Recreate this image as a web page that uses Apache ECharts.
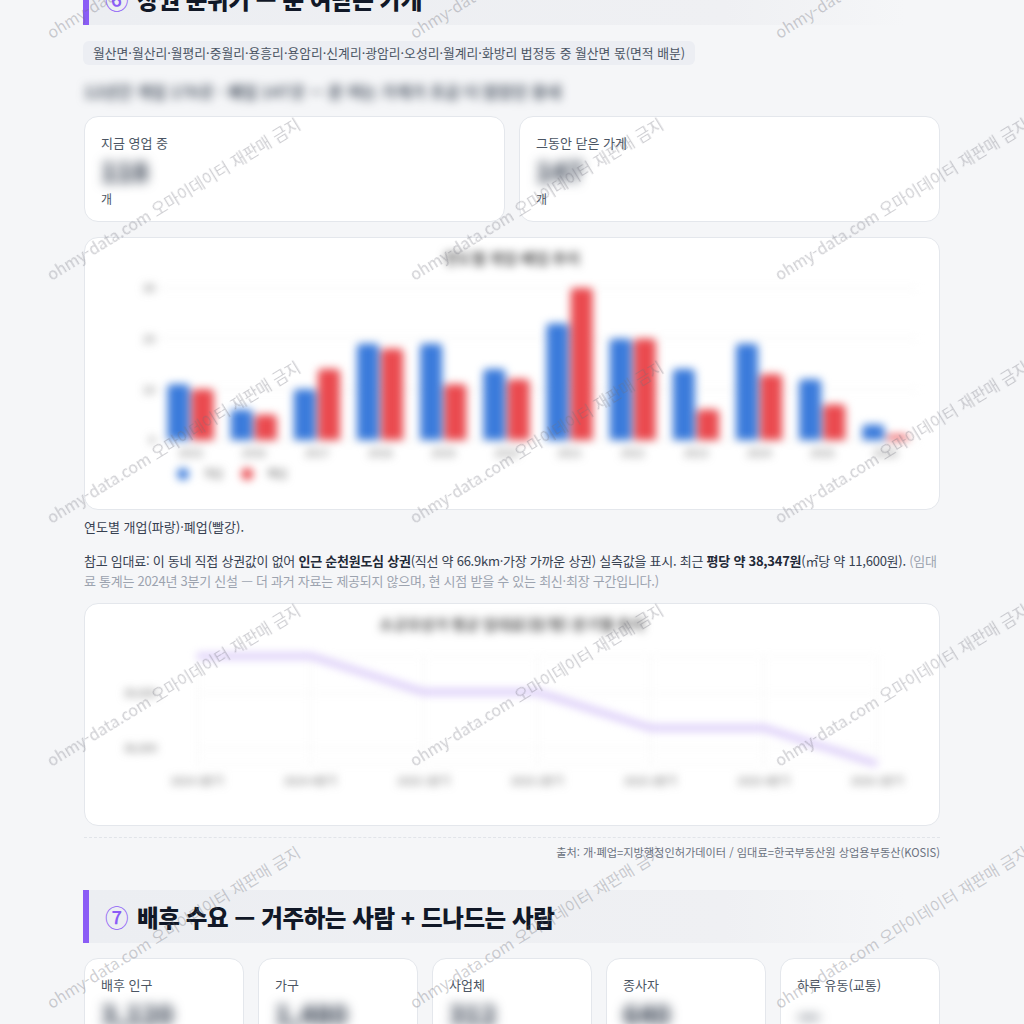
<!DOCTYPE html>
<html lang="ko">
<head>
<meta charset="utf-8">
<script src="https://cdn.jsdelivr.net/npm/echarts@6/dist/echarts.min.js"></script>
<style>
*{box-sizing:border-box;margin:0;padding:0}
html,body{width:1024px;height:1024px;overflow:hidden;background:#f5f6f8;font-family:'Noto Sans CJK KR','Noto Sans',sans-serif;color:#1f2937}
.hdr{position:absolute;left:83px;height:53px;width:822px;border-left:6px solid #8b5cf6;background:linear-gradient(90deg,#eceef2 0%,#eff0f3 78%,rgba(245,246,248,0) 100%);display:flex;align-items:center;padding-left:16px;font-size:23.5px;font-weight:900;color:#111827;letter-spacing:-0.4px;white-space:nowrap}
.hdr .num{color:#8b5cf6;font-weight:500;margin-right:9px}
.chip{position:absolute;left:83px;top:41px;height:24px;padding:0 10px;background:#eceef3;border-radius:6px;font-size:12.8px;line-height:24px;color:#4b5563;white-space:nowrap}
.blurline{position:absolute;left:84px;top:80px;font-size:16px;line-height:22px;font-weight:700;color:#4b5563;filter:blur(5px);white-space:nowrap}
.card{position:absolute;background:#fff;border:1px solid #e4e7ec;border-radius:14px;overflow:hidden}
.lbl{position:absolute;left:16px;font-size:13px;line-height:18px;color:#4b5563;white-space:nowrap}
.val{position:absolute;left:16px;font-size:26px;line-height:30px;font-weight:900;color:#374151;filter:blur(6px)}
.unit{position:absolute;left:16px;font-size:12px;line-height:16px;color:#4b5563}
.chartbox{position:absolute;left:-1px;top:-1px;filter:blur(4.5px)}
.cap{position:absolute;left:84px;font-size:13px;line-height:20px;color:#374151}
.para{position:absolute;left:84px;top:551px;width:856px;font-size:13px;line-height:20px;color:#374151;letter-spacing:-0.25px;word-break:break-all}
.para b{font-weight:700;color:#1f2937}
.para .muted{color:#9ca3af}
.dash{position:absolute;left:84px;top:837px;width:856px;border-top:1px dashed #e1e4e9}
.src{position:absolute;right:84px;top:844px;font-size:11.2px;line-height:16px;color:#6b7280;white-space:nowrap}
.wm{position:absolute;font-size:16px;line-height:16px;color:rgba(110,112,122,0.34);white-space:nowrap;transform-origin:0 100%;transform:rotate(-31.5deg);pointer-events:none;z-index:50}
</style>
</head>
<body>
<script>
// ---- data ----
const years = ['2015','2016','2017','2018','2019','2020','2021','2022','2023','2024','2025','2026'];
const openCounts  = [11, 6, 10, 19, 19, 14, 23, 20, 14, 19, 12, 3];
const closeCounts = [10, 5, 14, 18, 11, 12, 30, 20, 6, 13, 7, 1];
const quarters = ['2024 3분기','2024 4분기','2025 1분기','2025 2분기','2025 3분기','2025 4분기','2026 1분기'];
const rentPerPyeong = [39339, 39339, 39008, 39008, 38678, 38678, 38347];
const legendNames = ['개업', '폐업'];
const summaryLabels = ['지금 영업 중', '그동안 닫은 가게'];
const summaryValues = ['118', '147'];
const demandLabels = ['배후 인구', '가구', '사업체', '종사자', '하루 유동(교통)'];
const demandValues = ['3,120', '1,480', '312', '640', '—'];
</script>

<div class="hdr" style="top:-28px"><span class="num">⑥</span>상권 분위기 — 문 여닫는 가게</div>
<div class="chip">월산면·월산리·월평리·중월리·용흥리·용암리·신계리·광암리·오성리·월계리·화방리 법정동 중 월산면 몫(면적 배분)</div>
<div class="blurline">12년간 개업 170곳 · 폐업 147곳 — 문 여는 가게가 조금 더 많았던 동네</div>

<div id="sumCards"></div>

<div class="card" style="left:84px;top:237px;width:856px;height:273px">
  <div id="barChart" class="chartbox" style="width:856px;height:273px"></div>
</div>
<div class="cap" style="top:517px">연도별 개업(파랑)·폐업(빨강).</div>
<div class="para">참고 임대료: 이 동네 직접 상권값이 없어 <b>인근 순천원도심 상권</b>(직선 약 66.9km·가장 가까운 상권) 실측값을 표시. 최근 <b>평당 약 38,347원</b>(㎡당 약 11,600원). <span class="muted">(임대료 통계는 2024년 3분기 신설 — 더 과거 자료는 제공되지 않으며, 현 시점 받을 수 있는 최신·최장 구간입니다.)</span></div>

<div class="card" style="left:84px;top:603px;width:856px;height:223px">
  <div id="lineChart" class="chartbox" style="width:856px;height:223px"></div>
</div>
<div class="dash"></div>
<div class="src">출처: 개·폐업=지방행정인허가데이터 / 임대료=한국부동산원 상업용부동산(KOSIS)</div>

<div class="hdr" style="top:890px"><span class="num">⑦</span>배후 수요 — 거주하는 사람 + 드나드는 사람</div>
<div id="demandCards"></div>

<script>
(function(){
  const host = document.getElementById('sumCards');
  const lefts = [84, 519];
  summaryLabels.forEach((l, i) => {
    const c = document.createElement('div');
    c.className = 'card';
    c.style.cssText = `left:${lefts[i]}px;top:116px;width:421px;height:106px`;
    c.innerHTML = `<div class="lbl" style="top:17px">${l}</div><div class="val" style="top:39px">${summaryValues[i]}</div><div class="unit" style="top:74px">개</div>`;
    host.appendChild(c);
  });
  const host2 = document.getElementById('demandCards');
  demandLabels.forEach((l, i) => {
    const c = document.createElement('div');
    c.className = 'card';
    c.style.cssText = `left:${84 + i*174}px;top:958px;width:160px;height:120px`;
    c.innerHTML = `<div class="lbl" style="top:17px">${l}</div><div class="val" style="top:40px">${demandValues[i]}</div>`;
    host2.appendChild(c);
  });
  const xs = [52, 415, 780], ys = [40, 282, 525, 768, 1010];
  ys.forEach(y => xs.forEach(x => {
    const w = document.createElement('div');
    w.className = 'wm';
    w.textContent = 'ohmy-data.com 오마이데이터 재판매 금지';
    w.style.left = x + 'px';
    w.style.top = (y - 16) + 'px';
    document.body.appendChild(w);
  }));
})();

const FONT = "'Noto Sans CJK KR','Noto Sans',sans-serif";

const bar = echarts.init(document.getElementById('barChart'), null, {renderer:'canvas'});
bar.setOption({
  animation:false,
  textStyle:{fontFamily:FONT},
  title:{text:'연도별 개업·폐업 추이', left:'center', top:9, textStyle:{fontSize:15, fontWeight:'bold', color:'#555', fontFamily:FONT}},
  grid:{left:75, right:23, top:51, bottom:70},
  legend:{data:legendNames, left:88, top:226, icon:'circle', itemWidth:12, itemHeight:12, itemGap:18,
    textStyle:{fontSize:11, color:'#666', padding:[0,0,0,9], fontFamily:FONT}},
  xAxis:{type:'category', data:years, axisTick:{show:false}, axisLine:{lineStyle:{color:'#e5e5e5'}},
    axisLabel:{color:'#666', fontSize:11, margin:7}},
  yAxis:{type:'value', min:0, max:30, interval:10, axisLabel:{color:'#666', fontSize:11, margin:4},
    splitLine:{lineStyle:{color:'#eeeeee'}}},
  series:[
    {name:legendNames[0], type:'bar', data:openCounts, barWidth:22, barGap:'10%', itemStyle:{color:'#3b7bdb', borderRadius:[4,4,0,0]}},
    {name:legendNames[1], type:'bar', data:closeCounts, barWidth:22, itemStyle:{color:'#ea4a4f', borderRadius:[4,4,0,0]}}
  ]
});

const line = echarts.init(document.getElementById('lineChart'), null, {renderer:'canvas'});
line.setOption({
  animation:false,
  textStyle:{fontFamily:FONT},
  title:{text:'소규모상가 평균 임대료(원/평) 분기별 추이', left:'center', top:9, textStyle:{fontSize:15, fontWeight:'bold', color:'#555', fontFamily:FONT}},
  grid:{left:113, right:63, top:53, bottom:62},
  xAxis:{type:'category', data:quarters, boundaryGap:false, axisTick:{show:false}, axisLine:{show:false},
    splitLine:{show:true, lineStyle:{color:'#f2f2f2'}}, axisLabel:{color:'#666', fontSize:11, margin:11}},
  yAxis:{type:'value', min:'dataMin', max:'dataMax', splitNumber:2,
    axisLabel:{color:'#666', fontSize:11, margin:40, showMinLabel:false, showMaxLabel:false},
    splitLine:{lineStyle:{color:'#f2f2f2'}}},
  series:[{type:'line', data:rentPerPyeong, symbol:'none', lineStyle:{color:'#d3c1f7', width:5.5}}]
});
</script>
</body>
</html>
